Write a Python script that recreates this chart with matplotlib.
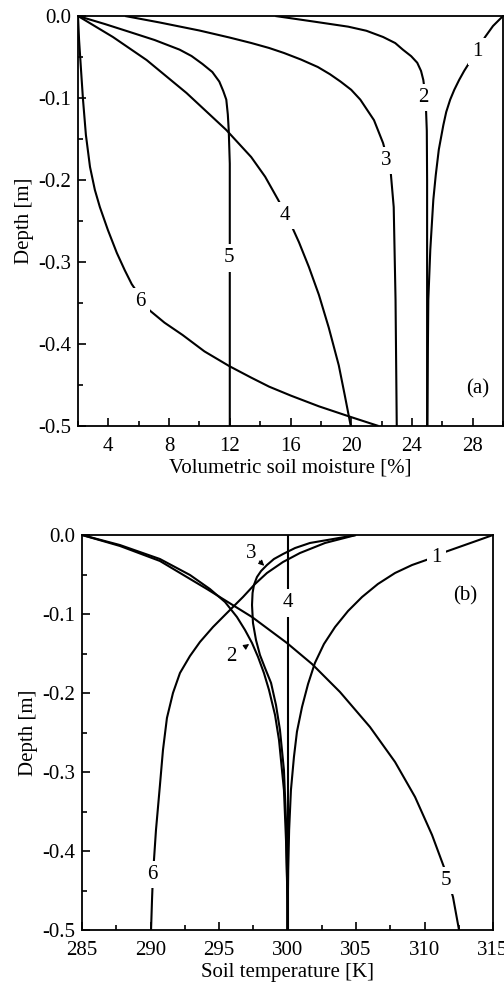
import matplotlib
matplotlib.use("Agg")
import matplotlib.pyplot as plt
from matplotlib.ticker import MultipleLocator, FormatStrFormatter

plt.rcParams['font.family'] = ['Liberation Serif', 'DejaVu Serif']
plt.rcParams['axes.unicode_minus'] = False

# ---------------- Panel (a): volumetric soil moisture [%] vs depth [m]
a1_depth = [0, -0.0122, -0.0256, -0.0573, -0.067, -0.078, -0.090, -0.102, -0.117, -0.133,
            -0.163, -0.194, -0.224, -0.285, -0.346, -0.407, -0.5]
a1_moist = [30.0, 29.34, 28.82, 27.77, 27.44, 27.11, 26.79, 26.52, 26.26, 26.07,
            25.77, 25.57, 25.41, 25.21, 25.08, 25.05, 25.02]

a2_depth = [0, -0.0067, -0.013, -0.018, -0.0256, -0.033, -0.041, -0.049, -0.057, -0.067,
            -0.078, -0.092, -0.115, -0.14, -0.2, -0.5]
a2_moist = [15.0, 17.5, 19.8, 21.0, 22.1, 22.9, 23.4, 23.95, 24.35, 24.6,
            24.75, 24.85, 24.93, 24.98, 25.0, 25.0]

a3_depth = [0, -0.0079, -0.0177, -0.0262, -0.0329, -0.039, -0.0451, -0.0531, -0.0622, -0.071,
            -0.080, -0.090, -0.102, -0.127, -0.155, -0.19, -0.233, -0.346, -0.5]
a3_moist = [5.1, 7.38, 10.0, 11.97, 13.41, 14.59, 15.57, 16.69, 17.8, 18.6,
            19.3, 20.0, 20.6, 21.5, 22.1, 22.6, 22.8, 22.92, 23.0]

a4_depth = [0, -0.0256, -0.0537, -0.0939, -0.139, -0.172, -0.196, -0.224, -0.249, -0.276,
            -0.306, -0.340, -0.380, -0.426, -0.462, -0.5]
a4_moist = [2.0, 4.30, 6.52, 9.15, 11.77, 13.41, 14.33, 15.18, 15.9, 16.56,
            17.21, 17.87, 18.52, 19.18, 19.57, 19.97]

a5_depth = [0, -0.0098, -0.0195, -0.0293, -0.041, -0.0488, -0.0585, -0.0683, -0.080, -0.0915,
            -0.102, -0.120, -0.139, -0.18, -0.5]
a5_moist = [2.0, 3.77, 5.41, 7.05, 8.69, 9.48, 10.2, 10.85, 11.31, 11.57,
            11.77, 11.87, 11.93, 12.0, 12.0]

a6_depth = [0, -0.029, -0.066, -0.102, -0.145, -0.184, -0.212, -0.233, -0.261, -0.289,
            -0.310, -0.327, -0.359, -0.374, -0.389, -0.409, -0.427, -0.441, -0.452, -0.463,
            -0.476, -0.489, -0.5]
a6_moist = [2.0, 2.07, 2.2, 2.33, 2.52, 2.79, 3.11, 3.44, 3.97, 4.56,
            5.08, 5.54, 6.72, 7.70, 8.89, 10.33, 11.97, 13.41, 14.59, 16.03,
            17.87, 19.97, 21.8]

a_curves = [(a1_moist, a1_depth), (a2_moist, a2_depth), (a3_moist, a3_depth),
            (a4_moist, a4_depth), (a5_moist, a5_depth), (a6_moist, a6_depth)]
a_label_text = ['1', '2', '3', '4', '5', '6']
a_label_x = [28.3, 24.75, 22.3, 15.65, 11.95, 6.1]
a_label_y = [-0.043, -0.099, -0.176, -0.243, -0.295, -0.348]

# ---------------- Panel (b): soil temperature [K] vs depth [m]
b1_depth = [0, -0.0063, -0.0139, -0.0215, -0.0304, -0.038, -0.0481, -0.062, -0.0785, -0.0962,
            -0.1165, -0.138, -0.162, -0.1886, -0.2177, -0.249, -0.281, -0.323, -0.373, -0.424, -0.5]
b1_temp = [315.0, 313.98, 312.74, 311.5, 310.33, 309.09, 307.85, 306.6, 305.44, 304.42,
           303.47, 302.66, 302.0, 301.5, 301.06, 300.69, 300.47, 300.25, 300.12, 300.05, 300.0]

b2_depth = [0, -0.0127, -0.0304, -0.0506, -0.0684, -0.0848, -0.1038, -0.1203, -0.1367, -0.1544,
            -0.1747, -0.1962, -0.2278, -0.2595, -0.3228, -0.3861, -0.462, -0.5]
b2_temp = [285.0, 287.77, 290.69, 292.88, 294.34, 295.44, 296.31, 296.9, 297.41, 297.85,
           298.28, 298.65, 299.09, 299.38, 299.74, 299.89, 300.0, 300.0]

b3_depth = [0, -0.0051, -0.0101, -0.0165, -0.0241, -0.0304, -0.038, -0.0456, -0.0532, -0.0633,
            -0.0734, -0.0886, -0.1114, -0.1329, -0.1519, -0.1684, -0.1873, -0.2152, -0.2468,
            -0.2975, -0.3608, -0.4367, -0.5]
b3_temp = [305.0, 303.32, 301.64, 300.55, 299.67, 299.01, 298.5, 298.07, 297.77, 297.55,
           297.45, 297.41, 297.48, 297.7, 297.99, 298.36, 298.8, 299.16, 299.45,
           299.74, 299.89, 299.97, 300.0]

b4_depth = [0, -0.5]
b4_temp = [300.0, 300.0]

b5_depth = [0, -0.0139, -0.0329, -0.0684, -0.1038, -0.1367, -0.1633, -0.1987, -0.2430, -0.2873,
            -0.3316, -0.3797, -0.4241, -0.4582, -0.5]
b5_temp = [285.0, 287.77, 290.69, 294.12, 297.41, 299.96, 301.79, 303.83, 306.02, 307.85,
           309.31, 310.55, 311.5, 312.08, 312.52]

b6_depth = [0, -0.0101, -0.0228, -0.0342, -0.0481, -0.062, -0.0785, -0.0987, -0.1165, -0.1354,
            -0.1532, -0.1747, -0.2, -0.2316, -0.2722, -0.3165, -0.3734, -0.4304, -0.462, -0.5]
b6_temp = [305.0, 302.74, 300.91, 299.67, 298.5, 297.63, 296.75, 295.58, 294.56, 293.61,
           292.88, 292.15, 291.64, 291.2, 290.91, 290.69, 290.4, 290.18, 290.11, 290.04]

b_curves = [(b1_temp, b1_depth), (b2_temp, b2_depth), (b3_temp, b3_depth),
            (b4_temp, b4_depth), (b5_temp, b5_depth), (b6_temp, b6_depth)]
# labels placed on the curve (with gap)
b_label_text = ['1', '4', '5', '6']
b_label_x = [310.9, 300.0, 311.6, 290.15]
b_label_y = [-0.028, -0.086, -0.437, -0.43]
# labels with arrows: (text, text x, text y, tip x, tip y)
b_arrow_text = ['3', '2']
b_arrow_tx = [297.36, 295.9]
b_arrow_ty = [-0.023, -0.154]
b_arrow_px = [298.3, 297.2]
b_arrow_py = [-0.039, -0.138]

FS = 15
LW = 1.5

fig = plt.figure(figsize=(5.04, 9.86), dpi=100)
ax1 = fig.add_axes([78/504, 1-426/986, 425/504, 410/986])
ax2 = fig.add_axes([82/504, 1-930/986, 411/504, 395/986])


def style(ax):
    for s in ax.spines.values():
        s.set_linewidth(1.3)
        s.set_zorder(5)
    ax.tick_params(which='both', direction='in', top=False, right=False,
                   labelsize=FS, width=1.2)
    ax.tick_params(axis='y', which='both', pad=5)
    ax.tick_params(axis='x', which='both', pad=8)
    ax.tick_params(which='major', length=6)
    ax.tick_params(which='minor', length=3.5)
    ax.yaxis.set_major_locator(MultipleLocator(0.1))
    ax.yaxis.set_minor_locator(MultipleLocator(0.05))
    ax.yaxis.set_major_formatter(FormatStrFormatter('%.1f'))
    ax.set_ylim(-0.5, 0.0)


# Panel (a)
for x, y in a_curves:
    ax1.plot(x, y, color='black', lw=LW, solid_capstyle='butt', solid_joinstyle='round')
for t, x, y in zip(a_label_text, a_label_x, a_label_y):
    ax1.text(x, y, t, fontsize=FS, ha='center', va='center', zorder=4,
             bbox=dict(boxstyle='square,pad=0.2', fc='white', ec='none'))
ax1.text(28.3, -0.455, '(a)', fontsize=FS, ha='center', va='center')
style(ax1)
ax1.set_xlim(2, 30)
ax1.xaxis.set_minor_locator(MultipleLocator(2))
ax1.set_xticks([4, 8, 12, 16, 20, 24, 28])
ax1.set_xlabel('Volumetric soil moisture [%]', fontsize=FS, labelpad=2)
ax1.set_ylabel('Depth [m]', fontsize=FS, labelpad=3)

# Panel (b)
for x, y in b_curves:
    ax2.plot(x, y, color='black', lw=LW, solid_capstyle='butt', solid_joinstyle='round')
for t, x, y in zip(b_label_text, b_label_x, b_label_y):
    ax2.text(x, y, t, fontsize=FS, ha='center', va='center', zorder=4,
             bbox=dict(boxstyle='square,pad=0.2', fc='white', ec='none'))
for t, tx, ty, px, py in zip(b_arrow_text, b_arrow_tx, b_arrow_ty, b_arrow_px, b_arrow_py):
    ax2.annotate(t, xy=(px, py), xytext=(tx, ty), fontsize=FS, ha='center', va='center',
                 arrowprops=dict(arrowstyle='-|>', color='black', lw=0.8,
                                 mutation_scale=8, shrinkA=6, shrinkB=0))
ax2.text(313.0, -0.077, '(b)', fontsize=FS, ha='center', va='center')
style(ax2)
ax2.set_xlim(285, 315)
ax2.xaxis.set_major_locator(MultipleLocator(5))
ax2.xaxis.set_minor_locator(MultipleLocator(2.5))
ax2.set_xlabel('Soil temperature [K]', fontsize=FS, labelpad=2)
ax2.set_ylabel('Depth [m]', fontsize=FS, labelpad=3)

fig.savefig('out.png', dpi=100)
